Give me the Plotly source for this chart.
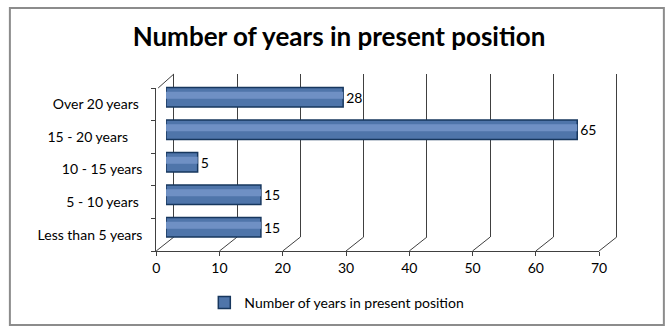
import plotly.graph_objects as go

categories = ["Less than 5 years", "5 - 10 years", "10 - 15 years", "15 - 20 years", "Over 20 years"]
tick_text = ["Less than 5 years", "5 - 10 years\u00a0", "10 - 15 years", "15 - 20 years\u00a0\u00a0\u00a0\u00a0", "Over 20 years\u00a0"]
values = [15, 15, 5, 65, 28]
x_ticks = [0, 10, 20, 30, 40, 50, 60, 70]
series_name = "Number of years in present position"
title_text = "Number of years in present position"

W, H = 665, 327
FONT = "Lato, Carlito, Calibri, sans-serif"
FS = 14

fx0, fx1 = 155, 606
dx, dy = 18, -14
front_y = 251
top_y = 88
mx = 10
eps = 1.0
unit = (fx1 - fx0) / 70

def px(x): return x / W
def py(y): return 1 - y / H

fig = go.Figure()

fig.add_trace(go.Scatter(x=[None], y=[None], xaxis="x", yaxis="y", showlegend=False, hoverinfo="skip"))
fig.add_trace(go.Scatter(x=[None], y=[None], xaxis="x2", yaxis="y2", showlegend=False, hoverinfo="skip"))

fig.add_trace(go.Bar(
    y=categories, x=values, orientation="h", name=series_name,
    xaxis="x3", yaxis="y3",
    marker=dict(color="#4F75AA", line=dict(color="#17375E", width=1.5)),
    width=0.6,
    text=[str(v) for v in values], textposition="outside",
    textfont=dict(family=FONT, size=FS, color="#000"),
    cliponaxis=False,
))
fig.add_trace(go.Bar(
    y=categories, x=values, orientation="h", showlegend=False,
    xaxis="x4", yaxis="y4", hoverinfo="skip",
    marker=dict(color="#6F90C4", line=dict(width=0)),
    width=0.22,
))

fig.update_layout(
    width=W, height=H,
    margin=dict(l=0, r=0, t=0, b=0),
    paper_bgcolor="white", plot_bgcolor="rgba(0,0,0,0)",
    barmode="overlay",
    title=dict(text="<b>" + title_text + "</b>", x=px(339), xanchor="center",
               y=py(37), yanchor="middle",
               font=dict(family=FONT, size=26, color="#000")),
    showlegend=True,
    legend=dict(x=px(204), y=py(303), xanchor="left", yanchor="middle",
                font=dict(family=FONT, size=FS, color="#000"),
                bgcolor="rgba(0,0,0,0)"),
    xaxis=dict(domain=[px(fx0), px(fx1)], range=[0, 70], tickvals=x_ticks,
               showgrid=False, zeroline=False, showline=True, linecolor="#404040",
               linewidth=1, ticks="outside", ticklen=4, tickcolor="#404040",
               tickfont=dict(family=FONT, size=FS, color="#000"),
               anchor="y", fixedrange=True),
    yaxis=dict(domain=[py(front_y), py(top_y)], type="category",
               categoryarray=categories, range=[-0.5, 4.5],
               tickvals=categories, ticktext=tick_text,
               tickson="boundaries", ticks="outside", ticklen=4, tickcolor="#404040",
               showline=True, linecolor="#404040", linewidth=1, showgrid=False,
               tickfont=dict(family=FONT, size=FS, color="#000"),
               ticklabelstandoff=10,
               anchor="x", fixedrange=True),
    xaxis2=dict(domain=[px(fx0 + dx - eps * unit), px(fx1 + dx + eps * unit)],
                range=[-eps, 70 + eps], tickvals=x_ticks,
                showgrid=True, gridcolor="#404040", gridwidth=1, showticklabels=False,
                zeroline=False, showline=False, anchor="y2",
                fixedrange=True),
    yaxis2=dict(domain=[py(front_y + dy), py(top_y + dy)], range=[0, 1],
                showgrid=False, showticklabels=False, zeroline=False, showline=False,
                anchor="x2", fixedrange=True),
    xaxis3=dict(domain=[px(fx0 + mx), px(fx1 + mx)], range=[0, 70], visible=False,
                anchor="y3", fixedrange=True),
    yaxis3=dict(domain=[py(243.5), py(81)], type="category", categoryarray=categories,
                range=[-0.5, 4.5], visible=False, anchor="x3", fixedrange=True),
    xaxis4=dict(domain=[px(fx0 + mx), px(fx1 + mx)], range=[0, 70], visible=False,
                anchor="y4", fixedrange=True),
    yaxis4=dict(domain=[py(241.5), py(79)], type="category", categoryarray=categories,
                range=[-0.5, 4.5], visible=False, anchor="x4", fixedrange=True),
)

shapes = []
for t in x_ticks:
    xf = fx0 + unit * t
    shapes.append(dict(type="line", xref="paper", yref="paper",
                       x0=px(xf), y0=py(front_y), x1=px(xf + dx), y1=py(front_y + dy),
                       line=dict(color="#404040", width=1), layer="below"))
shapes.append(dict(type="line", xref="paper", yref="paper",
                   x0=px(fx0 + 2), y0=py(top_y), x1=px(fx0 + dx), y1=py(top_y + dy),
                   line=dict(color="#404040", width=1), layer="below"))
shapes.append(dict(type="rect", xref="paper", yref="paper",
                   x0=px(6), y0=py(325), x1=px(672), y1=py(8),
                   line=dict(color="#8C8C8C", width=2)))
fig.update_layout(shapes=shapes)

fig.write_html("out.html")
